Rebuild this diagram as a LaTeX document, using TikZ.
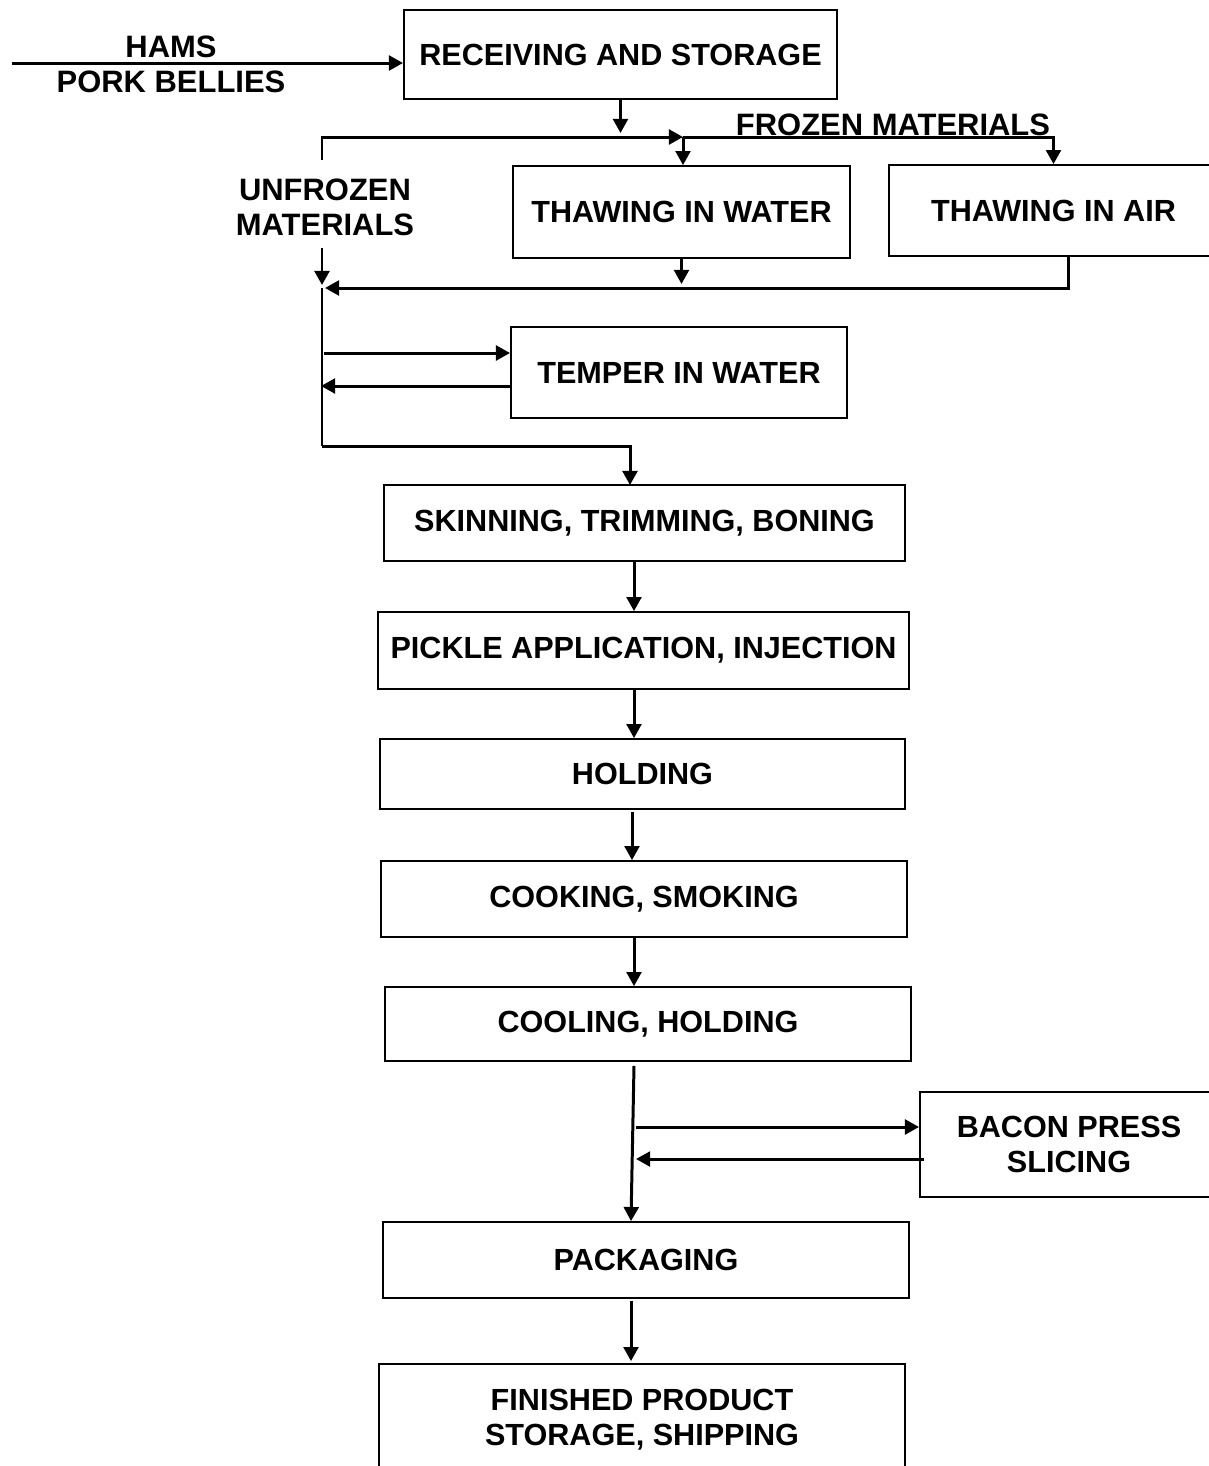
\documentclass[tikz,border=0pt]{standalone}
\usepackage{fontspec}
\setmainfont{Liberation Sans}
\usepackage{tikz}
\usetikzlibrary{arrows.meta,positioning,calc}

\tikzset{
  stage/.style={draw, line width=0.5pt, inner sep=0pt, align=center,
    font=\bfseries\fontsize{8.7}{10}\selectfont},
  lbl/.style={align=center, font=\bfseries\fontsize{8.8}{10}\selectfont},
  flow/.style={line width=0.85pt, -{Triangle[length=4pt,width=4.2pt]}},
  bus/.style={line width=0.85pt}
}

\begin{document}
\begin{tikzpicture}[x=0.01cm,y=-0.01cm]
    \useasboundingbox (0,0) rectangle (1208,1466);

    % Stages
    \node[stage, minimum width=4.33cm, minimum height=0.89cm] (recv) at (620.5,54.5) {RECEIVING AND STORAGE};
    \node[stage, minimum width=3.37cm, minimum height=0.92cm] (thawW) at (681.5,212) {THAWING IN WATER};
    \node[stage, minimum width=3.29cm, minimum height=0.91cm] (thawA) at (1053.5,210.5) {THAWING IN AIR};
    \node[stage, minimum width=3.36cm, minimum height=0.91cm] (temper) at (679,372.5) {TEMPER IN WATER};
    \node[stage, minimum width=5.21cm, minimum height=0.76cm] (skin) at (644.5,523) {SKINNING, TRIMMING, BONING};
    \node[stage, minimum width=5.31cm, minimum height=0.77cm] (pickle) at (643.5,650.5) {PICKLE APPLICATION, INJECTION};
    \node[stage, minimum width=5.25cm, minimum height=0.70cm] (hold) at (642.5,774) {HOLDING};
    \node[stage, minimum width=5.26cm, minimum height=0.76cm] (cook) at (644,899) {COOKING, SMOKING};
    \node[stage, minimum width=5.26cm, minimum height=0.74cm] (cool) at (648,1024) {COOLING, HOLDING};
    \node[stage, minimum width=2.98cm, minimum height=1.05cm] (bacon) at (1069,1144.5) {BACON PRESS\\SLICING};
    \node[stage, minimum width=5.26cm, minimum height=0.76cm] (pack) at (646,1260) {PACKAGING};
    \node[stage, minimum width=5.26cm, minimum height=1.12cm] (fin) at (642,1420) {FINISHED PRODUCT\\STORAGE, SHIPPING};

    % Labels
    \node[lbl] (raw) at (171,64.5) {HAMS\\PORK BELLIES};
    \node[lbl] (unfrozen) at (325,207) {UNFROZEN\\MATERIALS};
    \node[lbl] (frozen) at (893,125) {FROZEN MATERIALS};

    % Junction points
    \coordinate (src) at (12,63);
    \coordinate (split) at (683,137);
    \coordinate (ufTop) at (322,160);
    \coordinate (ufBot) at (322,248);
    \coordinate (merge) at (322,288);
    \coordinate (loop) at (322,446);
    \coordinate (skinIn) at (630,485);
    \coordinate (spine) at (634,0);

    % Receiving and thawing
    \draw[flow] (src) -- (src -| recv.west);
    \draw[flow] (recv.south) -- ($(recv.south |- split)+(0,-4)$);
    \draw[flow] (ufTop) |- (split);
    \draw[flow] (split) -- (split |- thawW.north);
    \draw[flow] (split) -| (thawA.north);
    \draw[flow] (ufBot) -- ($(merge)+(0,-3)$);
    \draw[flow] (thawW.south) -- ($(thawW.south |- merge)+(0,-4)$);
    \draw[flow] ($(thawA.south)+(14.5,0)$) |- ($(merge)+(3,0)$);

    % Tempering loop
    \draw[bus] (merge) -- (loop);
    \draw[flow] (loop) -| (skinIn);
    \draw[flow] ($(temper.west)+(-186,-19.5)$) -- ($(temper.west)+(0,-19.5)$);
    \draw[flow] ($(temper.west)+(0,13.5)$) -- ($(temper.west)+(-189,13.5)$);

    % Processing line
    \draw[flow] (skin.south -| spine) -- (pickle.north -| spine);
    \draw[flow] (pickle.south -| spine) -- (hold.north -| spine);
    \draw[flow] ($(hold.south -| spine)+(-2,2)$) -- ($(cook.north -| spine)+(-2,0)$);
    \draw[flow] (cook.south -| spine) -- (cool.north -| spine);
    \draw[flow] ($(cool.south -| spine)+(0,4)$) -- ($(pack.north -| spine)+(-3,0)$);
    \draw[flow] ($(bacon.west)+(-283,-17.5)$) -- ($(bacon.west)+(0,-17.5)$);
    \draw[flow] ($(bacon.west)+(5,14.5)$) -- ($(bacon.west)+(-283,14.5)$);
    \draw[flow] ($(pack.south -| spine)+(-3,2)$) -- ($(fin.north -| spine)+(-3,-2)$);
\end{tikzpicture}
\end{document}
